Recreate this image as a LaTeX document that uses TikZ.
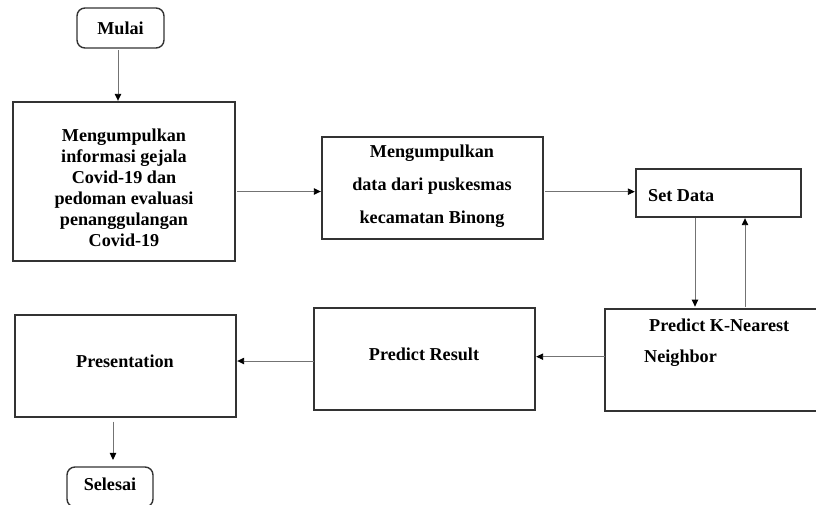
\documentclass[tikz,border=0pt]{standalone}
\usepackage{fontspec}
\setmainfont{Liberation Serif}
\usetikzlibrary{arrows.meta,calc}
\tikzset{
  boxnode/.style={draw=black!80, line width=1.2pt, rectangle, inner sep=0pt, outer sep=0pt},
  termnode/.style={boxnode, rounded corners=0.24cm, font=\fontsize{15.5}{18}\selectfont\bfseries},
  lbl/.style={inner sep=0pt, font=\fontsize{15.5}{18}\selectfont\bfseries},
  flow/.style={draw=black!55, line width=0.8pt, -{Triangle[length=6pt,width=5.5pt,color=black]}}
}
\begin{document}
\begin{tikzpicture}[x=0.03cm, y=-0.03cm]
			%%%%% FRAME %%%%%
			\useasboundingbox (0, 0) rectangle (816, 504);
			
			%%%%% BOXES %%%%%
			\node[termnode, minimum width=2.61cm, minimum height=1.2cm] (mulai) at (120.5, 28) {Mulai};
			\node[boxnode, minimum width=6.66cm, minimum height=4.77cm] (gejala) at (124, 181.5) {};
			\node[boxnode, minimum width=6.63cm, minimum height=3.06cm] (puskesmas) at (432.5, 188) {};
			\node[boxnode, minimum width=4.95cm, minimum height=1.44cm] (setdata) at (718.5, 193) {};
			\node[boxnode, minimum width=6.75cm, minimum height=3.06cm] (knn) at (717.5, 360) {};
			\node[boxnode, minimum width=6.63cm, minimum height=3.06cm] (result) at (424.5, 359) {};
			\node[boxnode, minimum width=6.63cm, minimum height=3.06cm] (present) at (125.5, 366) {};
			\node[termnode, minimum width=2.58cm, minimum height=1.2cm] (selesai) at (110, 487) {};
			
			%%%%% TEXTS %%%%%
			\node[lbl, align=center, font=\fontsize{15.5}{17.9}\selectfont\bfseries] (gejalatxt) at (124, 187.5)
				{Mengumpulkan\\informasi gejala\\Covid-19 dan\\pedoman evaluasi\\penanggulangan\\Covid-19};
			\node[lbl, align=center, font=\fontsize{15.5}{28.2}\selectfont\bfseries] (puskesmastxt) at (432, 186)
				{Mengumpulkan\\data dari puskesmas\\kecamatan Binong};
			\node[lbl, anchor=west] (setdatatxt) at (648, 196) {Set Data};
			\node[lbl, anchor=west] (knntxta) at (649, 325) {Predict K-Nearest};
			\node[lbl, anchor=west] (knntxtb) at (644, 358) {Neighbor};
			\node[lbl] (resulttxt) at (424, 354) {Predict Result};
			\node[lbl] (presenttxt) at (125, 361) {Presentation};
			\node[lbl] (selesaitxt) at (110, 484) {Selesai};
			
			%%%%% ARROWS %%%%%
			\coordinate (m1) at ([xshift=-0.075cm]mulai.south);
			\draw[flow, shorten <=2pt, shorten >=1pt] (m1) -- (m1 |- gejala.north);
			
			\coordinate (g1) at ([yshift=-0.3cm]gejala.east);
			\draw[flow, shorten <=2pt, shorten >=1pt] (g1) -- (g1 -| puskesmas.west);
			
			\coordinate (p1) at ([yshift=-0.11cm]puskesmas.east);
			\draw[flow, shorten <=2pt, shorten >=1pt] (p1) -- (p1 -| setdata.west);
			
			\coordinate (s1) at ([xshift=-0.705cm]setdata.south);
			\draw[flow, shorten <=1pt, shorten >=2pt] (s1) -- (s1 |- knn.north);
			\coordinate (s2) at ([xshift=0.795cm]setdata.south);
			\draw[flow, shorten <=2pt, shorten >=1pt] (s2 |- knn.north) -- (s2);
			
			\coordinate (k1) at ([yshift=0.1cm]knn.west);
			\draw[flow, shorten >=1pt] (k1) -- (k1 -| result.east);
			
			\coordinate (r1) at ([yshift=-0.06cm]result.west);
			\draw[flow, shorten >=1pt] (r1) -- (r1 -| present.east);
			
			\coordinate (e1) at ([xshift=-0.375cm]present.south);
			\draw[flow, shorten <=4pt, shorten >=6pt] (e1) -- (e1 |- selesai.north);
\end{tikzpicture}
\end{document}
